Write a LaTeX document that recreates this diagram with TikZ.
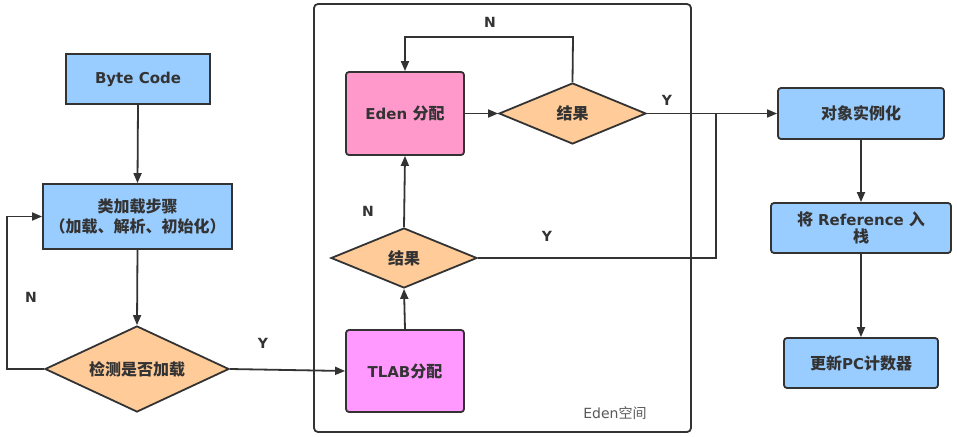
\documentclass[tikz,border=0pt]{standalone}
\usepackage{fontspec}
\setmainfont{DejaVu Sans}
\newfontfamily\cjk{Noto Sans CJK SC}
\usetikzlibrary{arrows.meta,shapes.geometric}
\definecolor{lineC}{HTML}{333333}
\definecolor{blueF}{HTML}{99CCFF}
\definecolor{pinkF}{HTML}{FF99CC}
\definecolor{violetF}{HTML}{FF99FF}
\definecolor{orangeF}{HTML}{FFCC99}
\tikzset{
  base/.style={draw=lineC, line width=1.8pt, font=\fontsize{15}{20}\selectfont\bfseries, text=lineC, align=center, inner sep=2pt},
  sqbox/.style={base, rectangle, fill=blueF},
  rbox/.style={base, rectangle, rounded corners=3pt},
  dia/.style={base, diamond, fill=orangeF, inner sep=0pt},
  conn/.style={draw=lineC, line width=1.8pt, -{Triangle[length=10pt,width=8pt]}},
  plain/.style={draw=lineC, line width=1.8pt},
  lab/.style={font=\fontsize{14}{16}\selectfont\bfseries, text=lineC},
}
\newcommand{\cj}[1]{{\cjk\fontsize{16}{20}\selectfont\bfseries #1}}
\begin{document}
\begin{tikzpicture}[x=1pt,y=-1pt]
\useasboundingbox (0,0) rectangle (957,436);
\fill[white] (0,0) rectangle (957,436);
% Eden frame
\node[draw=lineC, line width=1.8pt, rounded corners=4pt, minimum width=377pt, minimum height=428pt, inner sep=0pt] (frame) at (502.5,218) {};
\node[font=\fontsize{14}{16}\selectfont, text=black!65] (edenlab) at (615,413) {Eden{\cjk 空间}};
% left column
\node[sqbox, minimum width=144pt, minimum height=50pt] (bc) at (138,79) {Byte Code};
\node[sqbox, minimum width=189pt, minimum height=65pt] (cl) at (137.5,216.5) {\cj{类加载步骤}\\\cj{（加载、解析、初始化）}};
\node[dia, shape aspect=2.14, minimum width=184pt, minimum height=86pt] (chk) at (137,369) {\cj{检测是否加载}};
% Eden space
\node[rbox, fill=pinkF, minimum width=118pt, minimum height=83pt] (eden) at (405,113.5) {Eden \cj{分配}};
\node[dia, shape aspect=2.4, minimum width=147pt, minimum height=61pt] (r1) at (572.5,113.5) {\cj{结果}};
\node[dia, shape aspect=2.4, minimum width=146pt, minimum height=60pt] (r2) at (404,258) {\cj{结果}};
\node[rbox, fill=violetF, minimum width=118pt, minimum height=82pt] (tlab) at (405,371) {TLAB\cj{分配}};
% right column
\node[rbox, fill=blueF, minimum width=166pt, minimum height=51pt] (obj) at (861,113.5) {\cj{对象实例化}};
\node[rbox, fill=blueF, minimum width=180pt, minimum height=50pt, text width=170pt, inner sep=0pt] (ref) at (861,228) {\cj{将} Reference \cj{入}\\[-3pt]\cj{栈}};
\node[rbox, fill=blueF, minimum width=154pt, minimum height=50pt] (pc) at (861,363) {\cj{更新}PC\cj{计数器}};
% coordinates
\coordinate (lft) at (7,369);
\coordinate (top) at (573,37);
\coordinate (join) at (716,113.5);
% connectors
\draw[conn] (bc.south) -- (cl.north);
\draw[conn] (cl.south) -- (chk.north);
\draw[conn] (chk.west) -- (lft) |- (cl.west);
\draw[conn] (chk.east) -- (tlab.west);
\draw[conn] (tlab.north) -- (r2.south);
\draw[conn] (r2.north) -- (eden.south);
\draw[conn] (eden.east) -- (r1.west);
\draw[conn] (r1.north) -- (top) -| (eden.north);
\draw[conn] (r1.east) -- (obj.west);
\draw[plain] (r2.east) -| (join);
\draw[conn] (obj.south) -- (ref.north);
\draw[conn] (ref.south) -- (pc.north);
% labels
\node[lab] (n1) at (31,297) {N};
\node[lab] (y1) at (263,343) {Y};
\node[lab] (n2) at (490,22) {N};
\node[lab] (y2) at (667,100) {Y};
\node[lab] (n3) at (368,211) {N};
\node[lab] (y3) at (547,236) {Y};
\end{tikzpicture}
\end{document}
